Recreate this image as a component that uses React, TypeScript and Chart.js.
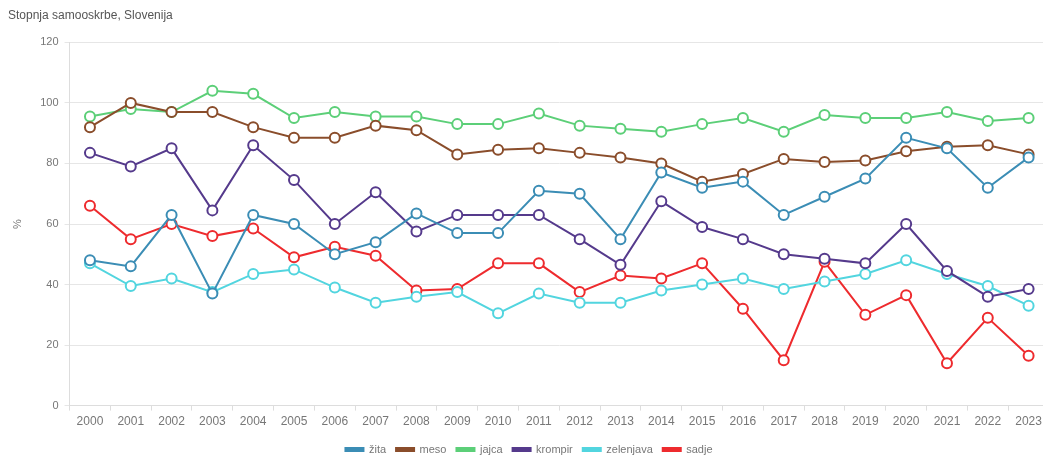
import React, { useEffect, useRef } from "react";
import { Chart, registerables } from "chart.js";

Chart.register(...registerables);

const years = ["2000","2001","2002","2003","2004","2005","2006","2007","2008","2009","2010","2011","2012","2013","2014","2015","2016","2017","2018","2019","2020","2021","2022","2023"];
const zita = [48, 46, 63, 37, 63, 60, 50, 54, 63.5, 57, 57, 71, 70, 55, 77, 72, 74, 63, 69, 75, 88.5, 85, 72, 82];
const meso = [92, 100, 97, 97, 92, 88.5, 88.5, 92.5, 91, 83, 84.5, 85, 83.5, 82, 80, 74, 76.5, 81.5, 80.5, 81, 84, 85.5, 86, 83];
const jajca = [95.5, 98, 97, 104, 103, 95, 97, 95.5, 95.5, 93, 93, 96.5, 92.5, 91.5, 90.5, 93, 95, 90.5, 96, 95, 95, 97, 94, 95];
const krompir = [83.5, 79, 85, 64.5, 86, 74.5, 60, 70.5, 57.5, 63, 63, 63, 55, 46.5, 67.5, 59, 55, 50, 48.5, 47, 60, 44.5, 36, 38.5];
const zelenjava = [47, 39.5, 42, 37.5, 43.5, 45, 39, 34, 36, 37.5, 30.5, 37, 34, 34, 38, 40, 42, 38.5, 41, 43.5, 48, 43.5, 39.5, 33];
const sadje = [66, 55, 60, 56, 58.5, 49, 52.5, 49.5, 38, 38.5, 47, 47, 37.5, 43, 42, 47, 32, 15, 47.5, 30, 36.5, 14, 29, 16.5];

const seriesNames = ["žita", "meso", "jajca", "krompir", "zelenjava", "sadje"];
const seriesData = [zita, meso, jajca, krompir, zelenjava, sadje];
const seriesColors = ["#3b8db5", "#8a4d2b", "#5ccf78", "#553a8c", "#52d5df", "#ee2b2e"];

const FONT = "Arial, 'Liberation Sans', sans-serif";

export default function App() {
  const ref = useRef<HTMLCanvasElement | null>(null);
  useEffect(() => {
    document.body.style.margin = "0";
    const ctx = ref.current!;
    const chart = new Chart(ctx, {
      type: "line",
      data: {
        labels: years,
        datasets: seriesNames.map((n, i) => ({
          label: n,
          data: seriesData[i],
          borderColor: seriesColors[i],
          backgroundColor: seriesColors[i],
          pointBackgroundColor: "#ffffff",
          pointBorderColor: seriesColors[i],
          pointRadius: 5,
          pointBorderWidth: 2,
          borderWidth: 2,
          tension: 0,
        })),
      },
      options: {
        responsive: false,
        animation: false,
        layout: { padding: { left: 8, right: 6, top: 2, bottom: 0 } },
        plugins: {
          title: {
            display: true,
            text: "Stopnja samooskrbe, Slovenija",
            align: "start",
            color: "#555",
            font: { family: FONT, size: 12, weight: "normal" },
            padding: { top: 6, bottom: 20 },
          },
          legend: {
            position: "bottom",
            labels: {
              boxWidth: 18,
              boxHeight: 3,
              color: "#777",
              font: { family: FONT, size: 11 },
              padding: 10,
            },
          },
          tooltip: { enabled: false },
        },
        scales: {
          x: {
            offset: true,
            grid: { offset: true, drawOnChartArea: false, tickLength: 5, color: "#ddd" },
            border: { color: "#ddd" },
            ticks: {
              color: "#777",
              font: { family: FONT, size: 12 },
              maxRotation: 0,
              autoSkip: false,
              padding: 4,
            },
            afterFit: (scale: any) => {
              scale.height += 1;
            },
          },
          y: {
            min: 0,
            max: 120,
            ticks: {
              stepSize: 20,
              color: "#777",
              font: { family: FONT, size: 11 },
              padding: 6,
            },
            grid: { color: "#e6e6e6", tickLength: 5 },
            border: { color: "#ddd" },
            title: {
              display: true,
              text: "%",
              color: "#777",
              font: { family: FONT, size: 11 },
              padding: { top: 3, bottom: 10 },
            },
          },
        },
      },
    });
    return () => chart.destroy();
  }, []);
  return (
    <div style={{ width: 1043, height: 457, overflow: "hidden" }}>
      <canvas ref={ref} width={1056} height={465} style={{ display: "block" }} />
    </div>
  );
}
